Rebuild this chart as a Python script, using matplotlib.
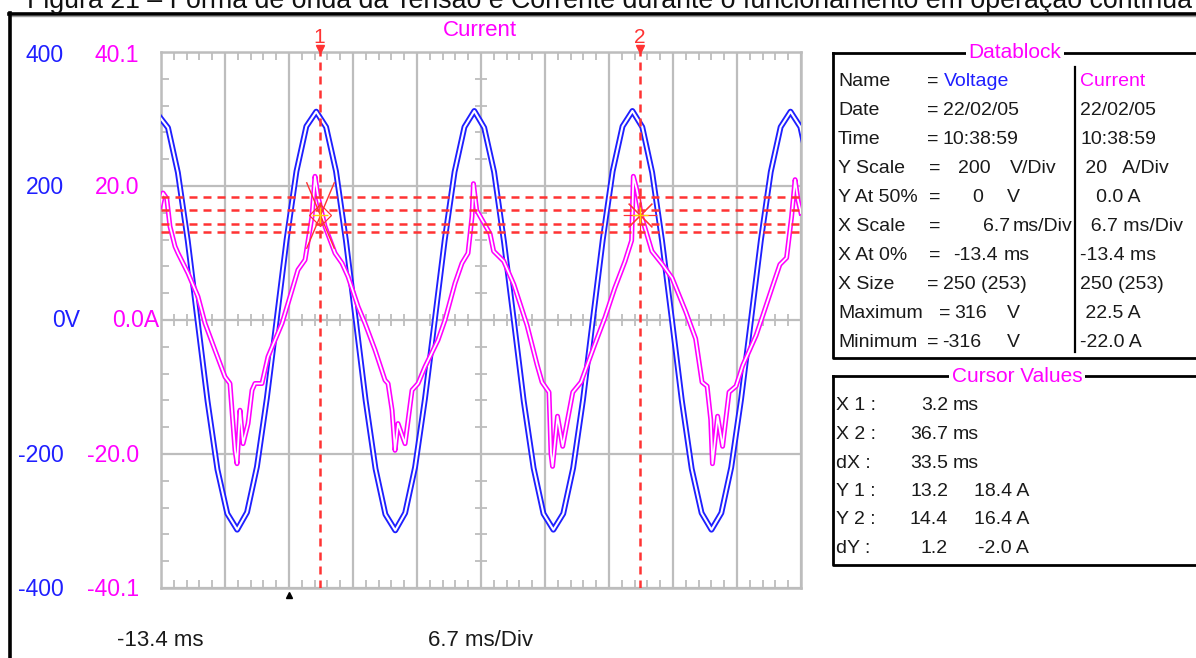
import numpy as np
import matplotlib
matplotlib.use("Agg")
import matplotlib.pyplot as plt
from matplotlib.lines import Line2D
from matplotlib.path import Path

W, H = 1196, 658

caption = "Figura 21 – Forma de onda da Tensão e Corrente durante o funcionamento em operação contínua"

# scope settings
x_start = -13.4      # ms at left edge
x_div = 6.7          # ms/div
n_xdiv = 10
v_div = 200          # V/div
n_vdiv = 4
i_full = 40.1        # A at top edge

# voltage trace (V)
voltage = [306, 287, 220, 118, -2, -121, -223, -289, -313, -287, -219, -117, 1, 120, 222, 289,
           311, 288, 222, 119, 0, -120, -222, -290, -314, -288, -220, -118, 0, 119, 221, 288,
           312, 287, 221, 117, -1, -121, -221, -289, -313, -289, -221, -119, 1, 120, 222, 289,
           312, 288, 220, 118, 0, -120, -222, -288, -313, -288, -220, -118, 0, 119, 221, 288,
           311, 288, 221]
t_volt = np.linspace(-13.70, 54.57, len(voltage))

# current trace (A)
t_cur = [-13.50, -13.19, -12.80, -12.46, -11.93, -11.62, -10.57, -9.53, -8.79, -7.75,
         -6.70, -6.18, -5.97, -5.65, -5.44, -5.13, -4.81, -4.29, -3.87, -3.56,
         -2.83, -2.20, -0.73, 0.32, 0.94, 1.68, 2.41, 2.72, 3.04, 3.77,
         4.82, 5.55, 6.18, 7.23, 7.96, 9.01, 10.05, 10.37, 10.79, 11.10,
         11.41, 12.15, 12.88, 13.51, 14.24, 15.60, 16.33, 17.38, 18.11, 18.74,
         19.16, 19.31, 19.65, 21.05, 21.42, 22.48, 23.54, 24.92, 25.97, 26.49,
         27.22, 27.43, 27.59, 28.11, 28.65, 29.17, 29.71, 30.57, 32.00, 33.06,
         34.11, 35.18, 35.87, 36.05, 36.41, 36.93, 37.99, 39.05, 40.10, 41.52,
         42.57, 43.24, 43.77, 44.15, 44.33, 44.87, 45.39, 46.07, 46.80, 47.50,
         48.90, 49.63, 50.68, 51.39, 52.09, 52.61, 52.98, 53.29, 53.60]
i_cur = [17.0, 19.0, 18.2, 14.0, 11.0, 10.0, 7.0, 3.5, -0.5, -4.5,
         -8.5, -9.5, -13.5, -19.5, -21.5, -13.5, -18.5, -15.5, -10.5, -9.5,
         -9.5, -5.5, -0.5, 4.5, 7.5, 9.0, 15.5, 21.5, 18.5, 14.0,
         10.0, 8.5, 6.5, 2.0, -0.5, -4.5, -9.0, -9.5, -13.5, -19.5,
         -15.5, -18.5, -10.5, -9.5, -7.0, -3.0, 0.0, 5.5, 8.5, 10.0,
         15.5, 20.4, 16.4, 12.9, 10.3, 8.8, 5.3, -0.8, -6.7, -9.3,
         -10.8, -20.0, -21.9, -14.4, -18.9, -14.9, -10.8, -9.3, -3.7, 0.3,
         4.8, 8.8, 11.9, 21.5, 19.5, 15.4, 10.3, 8.4, 6.3, 1.3,
         -2.8, -9.3, -9.9, -14.9, -21.5, -14.4, -18.9, -10.8, -9.9, -6.8,
         -2.3, 0.8, 5.3, 8.3, 9.3, 15.4, 21.0, 17.9, 16.0]

# cursors
cursor_t = [3.2, 36.7]
cursor_names = ["1", "2"]
cursor_levels = [18.4, 16.4, 14.4, 13.2]   # A
cursor_mark_i = 15.7

# side scale labels
volt_labels = ["400", "200", "0V", "-200", "-400"]
amp_labels = ["40.1", "20.0", "0.0A", "-20.0", "-40.1"]

# datablock
db_labels = ["Name", "Date", "Time", "Y Scale", "Y At 50%", "X Scale", "X At 0%", "X Size", "Maximum", "Minimum"]
db_val = ["Voltage", "22/02/05", "10:38:59", "200", "0", "6.7", "-13.4", "250 (253)", "316", "-316"]
db_unit = ["", "", "", "V/Div", "V", "ms/Div", "ms", "", "V", "V"]
db_curr = ["Current", "22/02/05", "10:38:59", " 20   A/Div", "   0.0 A",
           "  6.7 ms/Div", "-13.4 ms", "250 (253)", " 22.5 A", "-22.0 A"]

# cursor values
cv_labels = ["X 1 :", "X 2 :", "dX :", "Y 1 :", "Y 2 :", "dY :"]
cv_first = ["3.2", "36.7", "33.5", "13.2", "14.4", "1.2"]
cv_second = ["ms", "ms", "ms", "18.4 A", "16.4 A", "-2.0 A"]

BLUE = "#1f1fff"
MAG = "#ff00ff"
RED = "#ff3333"
GRID = "#bdbdbd"
INK = "#1a1a1a"

plt.rcParams["font.family"] = ["Liberation Sans", "DejaVu Sans"]

fig = plt.figure(figsize=(W / 100, H / 100), dpi=100)


def P(x, y):
    return x / W, 1 - y / H


def ftext(x, y, s, **kw):
    kw.setdefault("va", "center")
    kw.setdefault("color", INK)
    return fig.text(*P(x, y), s, **kw)


def fline(xs, ys, **kw):
    fig.add_artist(Line2D([x / W for x in xs], [1 - y / H for y in ys],
                          transform=fig.transFigure, **kw))


# caption, cut off by the top edge like in the scan
fig.text(*P(27, 7.5), caption, ha="left", va="baseline", fontsize=19.3, color="#111111")

# outer frame of the screenshot
fline([9, W + 5], [13.5, 13.5], color="black", lw=2.6)
fline([9, W + 5], [16, 16], color="#a0a0a0", lw=1)
fline([9.5, 9.5], [12.5, H + 5], color="black", lw=2.6)

# scope screen
ax = fig.add_axes([161 / W, 1 - 588 / H, 640 / W, 536 / H])
x_end = x_start + n_xdiv * x_div
v_top = n_vdiv / 2 * v_div
ax.set_xlim(x_start, x_end)
ax.set_ylim(-v_top, v_top)
minor_x = x_start + x_div / 5 * np.arange(5 * n_xdiv + 1)
minor_y = np.arange(-v_top, v_top + 1, v_div / 5)
ax.set_xticks(x_start + x_div * np.arange(n_xdiv + 1))
ax.set_xticks(minor_x, minor=True)
ax.set_yticks(np.arange(-v_top, v_top + 1, v_div))
ax.set_yticks(minor_y, minor=True)
ax.tick_params(which="both", direction="in", top=True, right=True,
               labelbottom=False, labelleft=False, color=GRID)
ax.tick_params(which="major", length=0)
ax.tick_params(which="minor", length=6, width=1.3)
ax.grid(which="major", color=GRID, lw=1.6)
ax.set_axisbelow(True)
for s in ax.spines.values():
    s.set_color(GRID)
    s.set_linewidth(1.8)

# ticks along the centre lines
xc = x_start + x_div * n_xdiv / 2
ax.plot(minor_x, np.zeros_like(minor_x), ls="none", marker="|", ms=9, mew=1.3, color=GRID, zorder=1)
ax.plot(np.full_like(minor_y, xc), minor_y, ls="none", marker="_", ms=9, mew=1.3, color=GRID, zorder=1)

# voltage, drawn hollow like the scope trace
ax.plot(t_volt, voltage, color=BLUE, lw=4.2, zorder=3)
ax.plot(t_volt, voltage, color="white", lw=1.5, zorder=3)

# trigger marker
ax.plot([0], [-v_top - 10], marker="^", ms=4, color="black", clip_on=False, zorder=5)

ax2 = ax.twinx()
ax2.set_ylim(-i_full, i_full)
ax2.set_axis_off()
ax2.plot(t_cur, i_cur, color=MAG, lw=3.6, zorder=3)
ax2.plot(t_cur, i_cur, color="white", lw=1.3, zorder=3)

dash = (0, (3.2, 2.4))
for lv in cursor_levels:
    ax2.axhline(lv, color=RED, lw=1.8, ls=dash, zorder=4)
tr = ax2.get_xaxis_transform()
for t, name in zip(cursor_t, cursor_names):
    ax2.axvline(t, color=RED, lw=1.8, ls=dash, zorder=4)
    ax2.text(t, 1.027, name, transform=tr, ha="center", va="center",
             color=RED, fontsize=15)
    ax2.plot([t], [1.006], transform=tr, marker="v", ms=6, color=RED, clip_on=False)

# cursor crossing marks
tall_x = Path([(-0.42, -1), (0.42, 1), (-0.42, 1), (0.42, -1)],
              [Path.MOVETO, Path.LINETO, Path.MOVETO, Path.LINETO])
ax2.plot([cursor_t[0]], [cursor_mark_i], marker=tall_x, ms=48, mew=1.0, color=RED, zorder=5)
ax2.plot([cursor_t[0]], [cursor_mark_i], marker="D", ms=11, mfc="none", mew=0.9, color=RED, zorder=5)
ax2.plot([cursor_t[1]], [cursor_mark_i], marker=(8, 2, 0), ms=24, mew=0.8, color=RED, zorder=5)
for t in cursor_t:
    ax2.plot([t], [cursor_mark_i], marker="+", ms=12, mew=1.0, color="#ffd000", zorder=5)

# side labels
row_y = [55, 187, 320, 456, 590]
for y, lv, la in zip(row_y, volt_labels, amp_labels):
    if lv.endswith("V"):
        ftext(52, y, lv, ha="left", color=BLUE, fontsize=16.5)
    else:
        ftext(64, y, lv, ha="right", color=BLUE, fontsize=16.5)
    if la.endswith("A"):
        ftext(112, y, la, ha="left", color=MAG, fontsize=16.5)
    else:
        ftext(139, y, la, ha="right", color=MAG, fontsize=16.5)

ftext(480, 30, "Current", ha="center", color=MAG, fontsize=16)
ftext(160, 640, "-13.4 ms", ha="center", fontsize=16)
ftext(480, 640, "6.7 ms/Div", ha="center", fontsize=16)

# datablock box
fline([833, 833, W + 5], [53, 358, 358], color="black", lw=2)
fline([833, W + 5], [53, 53], color="black", lw=2)
fline([1075, 1075], [67, 352], color="black", lw=1.6)
ftext(1015, 53, "Datablock", ha="center", color=MAG, fontsize=15,
      bbox=dict(facecolor="white", edgecolor="none", pad=2))
eq_x = [927, 927, 927, 929, 929, 929, 929, 927, 939, 927]
val_x = [944, 943, 943, 958, 972, 983, 953, 943, 954, 942]
unit_x = [0, 0, 0, 1010, 1007, 1013, 1004, 0, 1007, 1007]
fs = 14
for k, lab in enumerate(db_labels):
    y = 81.7 + 29 * k
    ftext(838, y, lab, ha="left", fontsize=fs)
    ftext(eq_x[k], y, "=", ha="left", fontsize=fs)
    ftext(val_x[k], y, db_val[k], ha="left", fontsize=fs, color=BLUE if k == 0 else INK)
    if db_unit[k]:
        ftext(unit_x[k], y, db_unit[k], ha="left", fontsize=fs)
    ftext(1080, y, db_curr[k], ha="left", fontsize=fs, color=MAG if k == 0 else INK)

# cursor values box
fline([833, 833, W + 5], [376, 565, 565], color="black", lw=2)
fline([833, W + 5], [376, 376], color="black", lw=2)
ftext(1017, 376, "Cursor Values", ha="center", color=MAG, fontsize=15,
      bbox=dict(facecolor="white", edgecolor="none", pad=2))
for k, (lab, a, b) in enumerate(zip(cv_labels, cv_first, cv_second)):
    y = 406 + 28.5 * k
    ftext(836, y, lab, ha="left", fontsize=fs)
    ftext(948, y, a, ha="right", fontsize=fs)
    if b == "ms":
        ftext(953, y, b, ha="left", fontsize=fs)
    else:
        ftext(1029, y, b, ha="right", fontsize=fs)

fig.savefig("out.png", dpi=100)
